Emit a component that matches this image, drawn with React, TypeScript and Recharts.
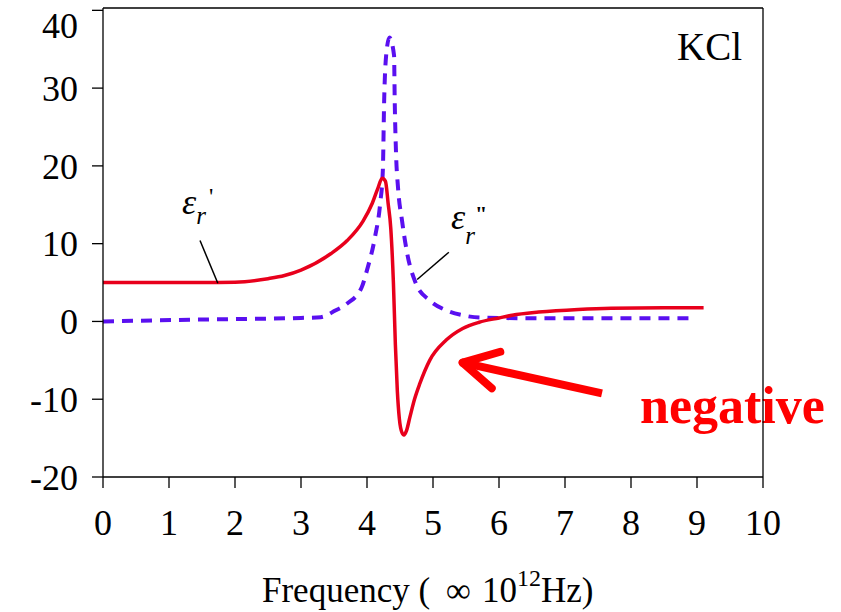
import { LineChart, Line, XAxis, YAxis, ReferenceLine } from "recharts";

// ε'(ω) – real part of the relative permittivity of KCl
const epsRealFreq = [
  0, 0.5, 1.0, 1.5, 2.0, 2.5, 2.75, 3.0, 3.45, 3.7, 3.94, 4.08, 4.16, 4.23, 4.28, 4.32,
  4.36, 4.4, 4.43, 4.46, 4.49, 4.53, 4.56, 4.6, 4.65, 4.72, 4.8, 4.95, 5.2, 5.45, 5.7,
  6.0, 6.2, 6.6, 7.2, 7.7, 8.5, 9.1,
];
const epsRealValues = [
  5.0, 5.0, 5.0, 5.0, 5.05, 5.5, 5.9, 6.6, 8.7, 10.4, 12.9, 15.2, 17.0, 18.4, 18.0, 15.2,
  12.0, 5.0, -3.0, -9.0, -12.5, -14.3, -14.6, -14.0, -12.3, -10.0, -8.0, -5.0, -2.4, -0.9, -0.1,
  0.45, 0.8, 1.2, 1.55, 1.7, 1.75, 1.75,
];

// ε''(ω) – imaginary part (loss peak at the TO resonance)
const epsImagFreq = [
  0, 1.5, 3.0, 3.3, 3.52, 3.7, 3.92, 4.0, 4.12, 4.2, 4.24, 4.26, 4.29, 4.34, 4.41, 4.42,
  4.44, 4.47, 4.53, 4.61, 4.74, 4.95, 5.21, 5.45, 5.71, 6.6, 8.95,
];
const epsImagValues = [
  0, 0.25, 0.45, 0.55, 1.4, 2.3, 4.4, 6.6, 10.8, 15.2, 19.4, 28.4, 34.2, 36.5, 34.2, 28.4,
  21.6, 17.2, 13.0, 8.7, 4.9, 2.7, 1.4, 0.8, 0.5, 0.4, 0.4,
];

const freqTicks = [0, 1, 2, 3, 4, 5, 6, 7, 8, 9, 10];
const valueTicks = [-20, -10, 0, 10, 20, 30, 40];

const realData = epsRealFreq.map((f, i) => ({ f, v: epsRealValues[i] }));
const imagData = epsImagFreq.map((f, i) => ({ f, v: epsImagValues[i] }));

const Y_MAX = 40.3;
const FONT = "'Liberation Serif', 'Times New Roman', serif";
const serif = { fontFamily: FONT };
const RED = "#e8001c";
const BLUE = "#5a10f0";
const ARROW = "#ff0000";

const YTick = (props: any) => {
  const { x, y, payload } = props;
  // keep the top label inside the frame
  const shift = payload.value === 40 ? 15 : 0;
  return (
    <text x={x} y={y + shift} dy="0.355em" textAnchor="end" style={serif} fontSize={36} fill="#000">
      {payload.value}
    </text>
  );
};

const XTick = (props: any) => {
  const { x, y, payload } = props;
  return (
    <text x={x} y={y} dy="0.71em" textAnchor="middle" style={serif} fontSize={36} fill="#000">
      {payload.value}
    </text>
  );
};

const FreqLabel = (props: any) => {
  const { viewBox } = props;
  const y = viewBox.y + 125;
  return (
    <text x={262} y={y} style={serif} fontSize={35} fill="#000">
      Frequency (
      <tspan x={446}>∞</tspan>
      <tspan x={482}>10</tspan>
      <tspan fontSize={24} dy={-16}>12</tspan>
      <tspan dy={16}>Hz)</tspan>
    </text>
  );
};

export default function App() {
  return (
    <div style={{ position: "absolute", left: 0, top: 0, background: "#fff" }}>
      <LineChart width={841} height={612} margin={{ top: 8, right: 78, bottom: 5, left: 0 }}>
        <XAxis
          type="number"
          dataKey="f"
          domain={[0, 10]}
          ticks={freqTicks}
          allowDuplicatedCategory={false}
          height={130}
          tickSize={11}
          tickMargin={21}
          stroke="#000"
          strokeWidth={1.3}
          tick={<XTick />}
          label={{ content: <FreqLabel /> }}
        />
        <YAxis
          type="number"
          domain={[-20, Y_MAX]}
          ticks={valueTicks}
          width={103}
          tickSize={11}
          tickMargin={14}
          stroke="#000"
          strokeWidth={1.3}
          tick={<YTick />}
        />
        <ReferenceLine y={Y_MAX} stroke="#000" strokeWidth={1.3} />
        <ReferenceLine x={10} stroke="#000" strokeWidth={1.3} />

        <Line
          data={imagData}
          dataKey="v"
          type="monotone"
          stroke={BLUE}
          strokeWidth={4}
          strokeDasharray="11 8"
          dot={false}
          isAnimationActive={false}
        />
        <Line
          data={realData}
          dataKey="v"
          type="monotone"
          stroke={RED}
          strokeWidth={3.5}
          dot={false}
          isAnimationActive={false}
        />

        {/* leader lines for the curve labels */}
        <ReferenceLine segment={[{ x: 1.47, y: 10.4 }, { x: 1.74, y: 4.9 }]} stroke="#000" strokeWidth={1.5} />
        <ReferenceLine segment={[{ x: 5.24, y: 8.9 }, { x: 4.76, y: 5.4 }]} stroke="#000" strokeWidth={1.5} />

        {/* arrow pointing at the negative region of ε' */}
        <ReferenceLine segment={[{ x: 7.56, y: -9.26 }, { x: 5.45, y: -5.3 }]} stroke={ARROW} strokeWidth={8} strokeLinecap="butt" />
        <ReferenceLine segment={[{ x: 6.02, y: -3.9 }, { x: 5.45, y: -5.3 }]} stroke={ARROW} strokeWidth={8} strokeLinecap="round" />
        <ReferenceLine segment={[{ x: 5.89, y: -8.6 }, { x: 5.45, y: -5.3 }]} stroke={ARROW} strokeWidth={8} strokeLinecap="round" />

        <text x={677} y={60} style={serif} fontSize={39} fill="#000">KCl</text>

        {/* curve labels ε_r' and ε_r'' */}
        <text x={182} y={214} style={serif} fontSize={36} fontStyle="italic" fill="#000">
          ε
          <tspan dy={10} fontSize={25}>r</tspan>
          <tspan dx={3} dy={-20} fontSize={24} fontStyle="normal">'</tspan>
        </text>
        <text x={451} y={229} style={serif} fontSize={36} fontStyle="italic" fill="#000">
          ε
          <tspan dy={15} fontSize={25}>r</tspan>
          <tspan dy={-23} fontSize={22} fontStyle="normal" fontWeight="bold">"</tspan>
        </text>

        <text x={640} y={423} style={serif} fontSize={52} fontWeight="bold" fill={ARROW}>negative</text>
      </LineChart>
    </div>
  );
}
